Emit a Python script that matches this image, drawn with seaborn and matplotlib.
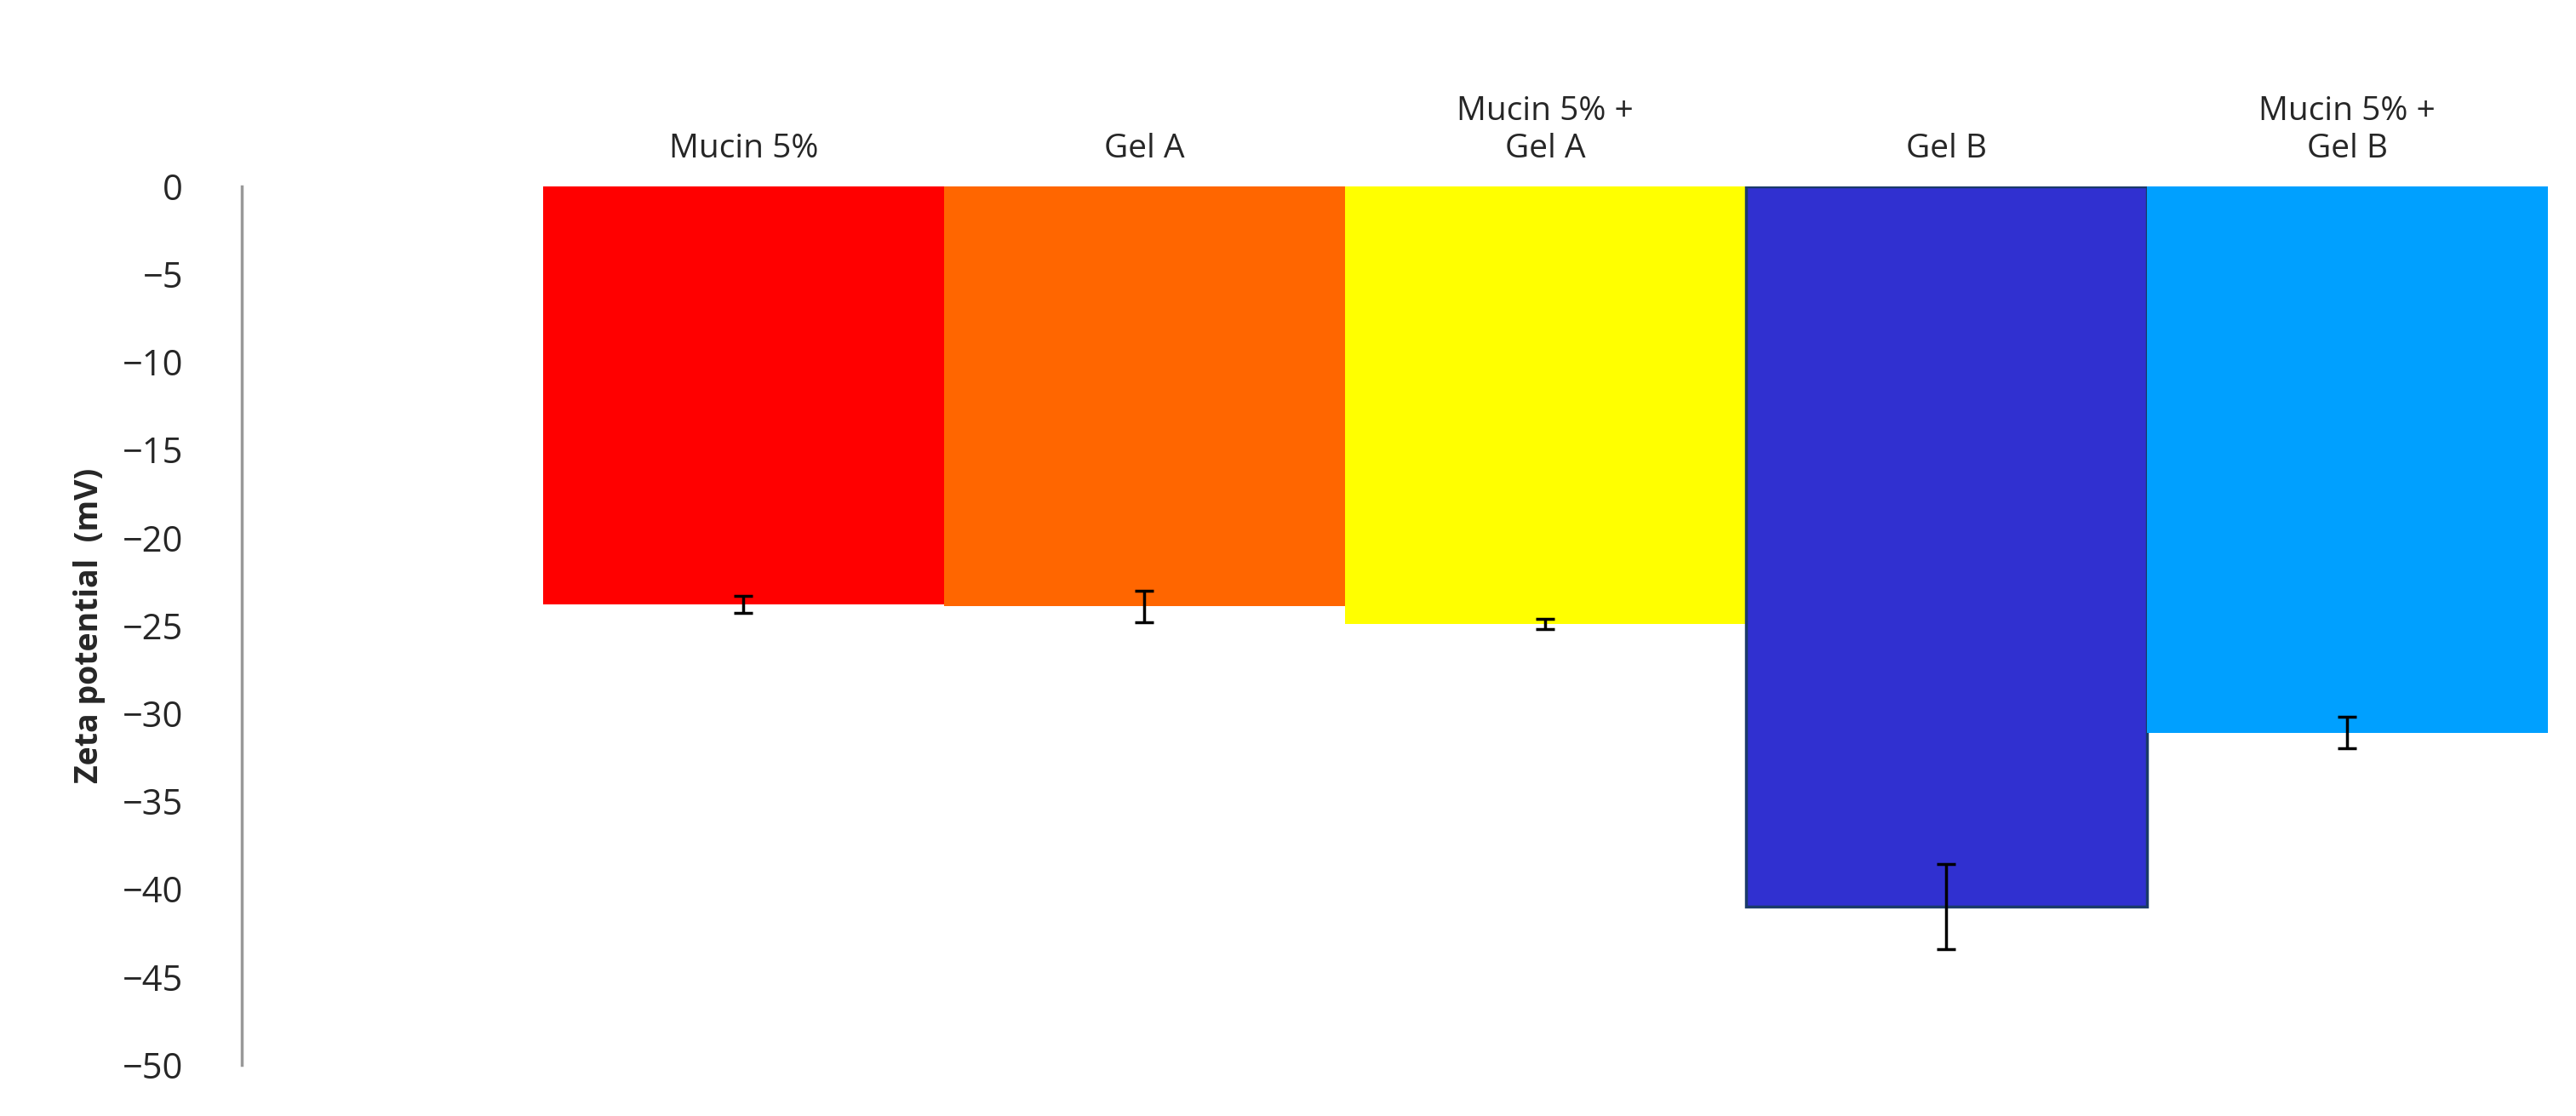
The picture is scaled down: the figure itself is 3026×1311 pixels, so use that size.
import pandas as pd
import seaborn as sns
import matplotlib.pyplot as plt

categories = ['Mucin 5%', 'Gel A', 'Mucin 5% +\nGel A', 'Gel B', 'Mucin 5% +\nGel B']
zeta_mv = [-23.8, -23.9, -24.9, -41.0, -31.1]
zeta_err = [0.5, 0.9, 0.3, 2.4, 0.9]
bar_colors = ['#ff0000', '#ff6600', '#ffff00', '#3030d0', '#00a0ff']

sns.set_style('white')
plt.rcParams['font.family'] = ['Open Sans', 'DejaVu Sans']

df = pd.DataFrame({'sample': categories, 'zeta': zeta_mv})

fig = plt.figure(figsize=(30.26, 13.11), dpi=100)
ax = fig.add_axes([0.094, 0.046, 0.895, 0.787])

sns.barplot(data=df, x='sample', y='zeta', hue='sample', palette=bar_colors,
            width=1.0, legend=False, ax=ax, saturation=1, errorbar=None)
for i, p in enumerate(ax.patches):
    p.set_linewidth(0)
    if categories[i] == 'Gel B':
        p.set_edgecolor('#1a3a6a')
        p.set_linewidth(2.5)

ax.errorbar(range(len(categories)), zeta_mv, yerr=zeta_err, fmt='none',
            ecolor='black', elinewidth=2.5, capsize=8, capthick=2.5)

ax.set_xlim(-1.25, 4.5)
ax.set_ylim(-50, 0)
ax.set_yticks(range(-50, 1, 5))
ax.xaxis.tick_top()
ax.tick_params(axis='x', length=0, labelsize=28, pad=18)
ax.tick_params(axis='y', length=0, labelsize=30, pad=50)
ax.set_xlabel('')
ax.set_ylabel('Zeta potential  (mV)', fontsize=27, fontweight='bold', labelpad=14)
for s in ['top', 'right', 'bottom']:
    ax.spines[s].set_visible(False)
ax.spines['left'].set_color('#999999')
ax.spines['left'].set_linewidth(2.5)

fig.savefig('out.png', dpi=100)
